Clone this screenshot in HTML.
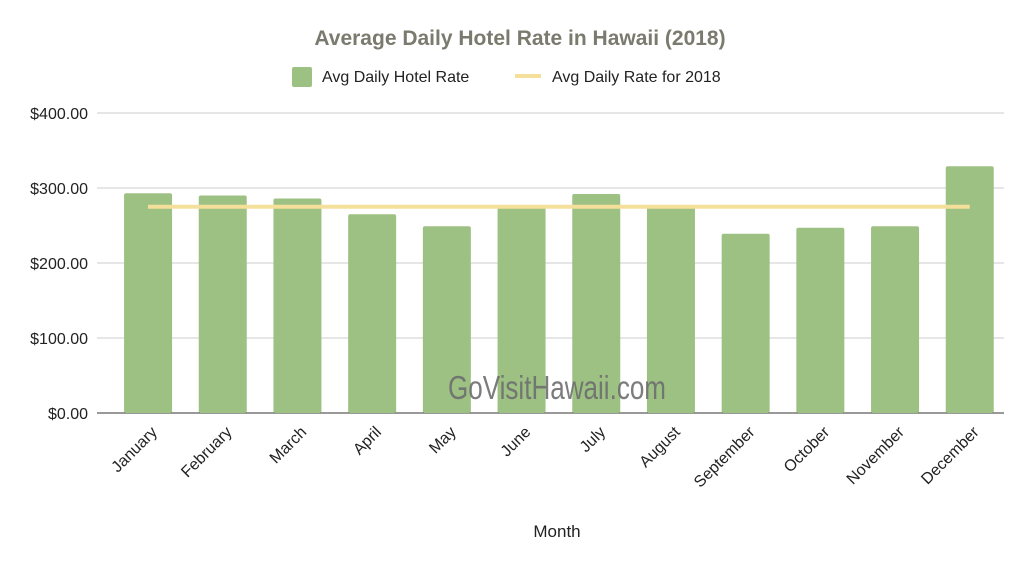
<!DOCTYPE html>
<html><head><meta charset="utf-8"><style>
body{margin:0;background:#fff;font-family:"Liberation Sans",Arial,sans-serif}
svg{display:block}
</style></head><body>
<svg width="1024" height="567" id="c">
<text x="520" y="45" text-anchor="middle" font-size="21" font-weight="bold" fill="#7a7a6e">Average Daily Hotel Rate in Hawaii (2018)</text>
<g>
<rect x="292" y="67" width="20" height="20" rx="2" fill="#9dc183"/>
<text x="322" y="82" font-size="16" fill="#222">Avg Daily Hotel Rate</text>
<rect x="515" y="74" width="26" height="4" fill="#f5e09b"/>
<text x="552" y="82" font-size="16" fill="#222">Avg Daily Rate for 2018</text>
</g>
<g id="grid"></g><g id="bars"></g><g id="line"></g><g id="xl"></g>
<text x="448" y="399" textLength="218" lengthAdjust="spacingAndGlyphs" font-size="33" fill="#6e6e6e" fill-opacity="0.9">GoVisitHawaii.com</text>
<text x="557" y="537" text-anchor="middle" font-size="17" fill="#222">Month</text>
</svg>
<script>
const months=["January","February","March","April","May","June","July","August","September","October","November","December"];
const rates=[293,290,286,265,249,275,292,277,239,247,249,329];
const avgRate=275;
const ticks=[0,100,200,300,400];
const tickLabels=["$0.00","$100.00","$200.00","$300.00","$400.00"];
const NS="http://www.w3.org/2000/svg";
const y=v=>413-v*0.75;
const bw=74.7, x0=110.7;
const xc=i=>x0+bw*(i+0.5);
function mk(t,a,p){const e=document.createElementNS(NS,t);for(const k in a)e.setAttribute(k,a[k]);document.getElementById(p).appendChild(e);return e;}
ticks.forEach((t,i)=>{
 const l=mk('line',{x1:97,x2:1004,y1:y(t),y2:y(t),stroke:t==0?'#333':'#ccc','stroke-width':1},'grid');
 
 
 const tx=mk('text',{x:88,y:y(t)+6,'text-anchor':'end','font-size':16,fill:'#222'},'grid');
 tx.textContent=tickLabels[i];
 
 
});
rates.forEach((v,i)=>{
 const r=mk('rect',{x:xc(i)-24,y:y(v),width:48,height:413-y(v),rx:2,fill:'#9dc183'},'bars');
 
 
 const t=mk('text',{'font-size':16,fill:'#222','text-anchor':'end',transform:`translate(${xc(i)+10},${433}) rotate(-45)`},'xl');
 t.textContent=months[i];
 
 
});
const ln=mk('line',{x1:xc(0),x2:xc(11),y1:y(avgRate),y2:y(avgRate),stroke:'#f5e09b','stroke-width':4},'line');


</script>
</body></html>
